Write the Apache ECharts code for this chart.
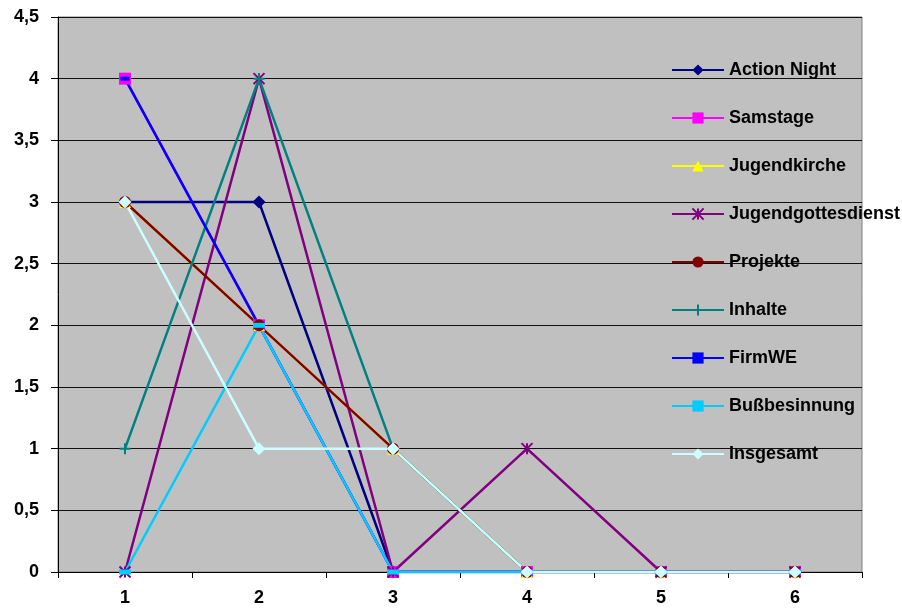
<!DOCTYPE html>
<html>
<head>
<meta charset="utf-8">
<script src="https://cdn.jsdelivr.net/npm/echarts@6/dist/echarts.min.js"></script>
<style>html,body{margin:0;padding:0;background:#fff;}#c{width:902px;height:608px;}</style>
</head>
<body>
<div id="c"></div>
<script>
const categories = ['1', '2', '3', '4', '5', '6'];
const seriesNames = ['Action Night', 'Samstage', 'Jugendkirche', 'Jugendgottesdienst', 'Projekte', 'Inhalte', 'FirmWE', 'Bußbesinnung', 'Insgesamt'];
const actionNight = [3, 3, 0, 0, 0, 0];
const samstage = [4, 2, 0, 0, 0, 0];
const jugendkirche = [3, 2, 1, 0, 0, 0];
const jugendgottesdienst = [0, 4, 0, 1, 0, 0];
const projekte = [3, 2, 1, 0, 0, 0];
const inhalte = [1, 4, 1, 0, 0, 0];
const firmWE = [4, 2, 0, 0, 0, 0];
const bussbesinnung = [0, 2, 0, 0, 0, 0];
const insgesamt = [3, 1, 1, 0, 0, 0];
const yTicks = [0, 0.5, 1, 1.5, 2, 2.5, 3, 3.5, 4, 4.5];

const values = [actionNight, samstage, jugendkirche, jugendgottesdienst, projekte, inhalte, firmWE, bussbesinnung, insgesamt];
const colors = ['#000080', '#FF00FF', '#FFFF00', '#800080', '#800000', '#008080', '#0000FF', '#00CCFF', '#CCFFFF'];
const symbols = ['diamond', 'rect', 'triangle',
  'path://M0,0L10,10M10,0L0,10M5,0L5,10',
  'circle',
  'path://M5,0L5,10M0,5L10,5',
  'rect', 'rect', 'diamond'];
const sizes = [13, 12, 12, 11, 12, 11, [9, 4], [12, 5], 13];

const chart = echarts.init(document.getElementById('c'));
chart.setOption({
  animation: false,
  backgroundColor: '#ffffff',
  textStyle: { fontFamily: 'Liberation Sans' },
  grid: {
    left: 58, right: 40, top: 17, bottom: 36,
    show: true, backgroundColor: '#C0C0C0', borderColor: '#808080', borderWidth: 1
  },
  legend: {
    orient: 'vertical',
    left: 666, top: 56,
    itemWidth: 52, itemHeight: 14,
    itemGap: 30,
    textStyle: { fontSize: 18, fontWeight: 'bold', color: '#000', fontFamily: 'Liberation Sans' },
    data: seriesNames
  },
  xAxis: {
    type: 'category',
    data: categories,
    boundaryGap: true,
    axisLine: { lineStyle: { color: '#000', width: 1 } },
    axisTick: { show: true, length: 6, lineStyle: { color: '#000' } },
    axisLabel: { fontSize: 18, fontWeight: 'bold', color: '#000', margin: 17 },
    splitLine: { show: false }
  },
  yAxis: {
    type: 'value',
    min: 0, max: 4.5, interval: 0.5,
    axisLine: { show: true, lineStyle: { color: '#000', width: 1 } },
    axisTick: { show: true, length: 7, lineStyle: { color: '#000' } },
    axisLabel: {
      fontSize: 18, fontWeight: 'bold', color: '#000', margin: 19,
      formatter: v => String(v).replace('.', ',')
    },
    splitLine: { show: true, lineStyle: { color: '#111', width: 1 } }
  },
  series: seriesNames.map((name, i) => ({
    name: name,
    type: 'line',
    data: values[i],
    symbol: symbols[i],
    symbolSize: sizes[i],
    showAllSymbol: true,
    lineStyle: { color: colors[i], width: 2.5 },
    itemStyle: { color: colors[i], borderColor: colors[i], borderWidth: (i === 3 || i === 5) ? 2 : 0 },
    emphasis: { disabled: true }
  }))
});
</script>
</body>
</html>
